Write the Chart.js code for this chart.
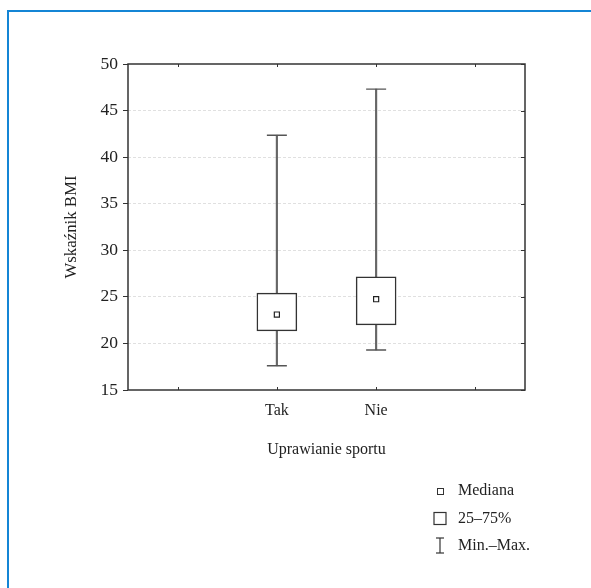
<!DOCTYPE html>
<html><head><meta charset="utf-8">
<script src="https://cdn.jsdelivr.net/npm/chart.js@4.4.0/dist/chart.umd.min.js"></script>
<style>
html,body{margin:0;padding:0;background:#fff;overflow:hidden}
#wrap{position:relative;width:591px;height:588px}
#frame{position:absolute;left:7px;top:10px;width:640px;height:640px;border:2px solid #1485d5;box-sizing:border-box;pointer-events:none}
canvas{position:absolute;left:0;top:0}
</style></head><body>
<div id="wrap"><canvas id="c" width="591" height="588"></canvas><div id="frame"></div></div>
<script>
const categories = ['Tak', 'Nie'];
const minValues = [17.6, 19.3];
const q1Values = [21.35, 22.0];
const medianValues = [23.1, 24.75];
const q3Values = [25.4, 27.15];
const maxValues = [42.35, 47.3];
const yMin = 15, yMax = 50, yStep = 5;
const legendLabels = ['Mediana', '25\u201375%', 'Min.\u2013Max.'];

const axisLabels = ['', ...categories, ''];
const pad = arr => [null, ...arr, null];
const FONT = "'Liberation Serif', 'Times New Roman', serif";
const TXT = '#222';

const framePlugin = {
  id: 'frame',
  afterDraw(chart) {
    const {ctx, chartArea: {left, right, top, bottom}, scales: {x, y}} = chart;
    ctx.save();
    ctx.strokeStyle = '#333';
    ctx.lineWidth = 1.5;
    ctx.strokeRect(left, top, right - left, bottom - top);
    ctx.lineWidth = 1;
    const ln = (a, b, c, d) => { ctx.beginPath(); ctx.moveTo(a, b); ctx.lineTo(c, d); ctx.stroke(); };
    x.ticks.forEach((t, i) => {
      const px = Math.round(x.getPixelForTick(i)) + 0.5;
      ln(px, top, px, top + 3);
      ln(px, bottom, px, bottom - 3);
    });
    y.ticks.forEach((t, i) => {
      const py = Math.round(y.getPixelForTick(i)) + 0.5;
      ln(right, py, right - 4, py);
    });
    // legend
    const lx = 440, tx = 458;
    const rows = [491, 518.5, 545.5];
    ctx.strokeStyle = '#333';
    ctx.fillStyle = '#fff';
    ctx.lineWidth = 1;
    ctx.strokeRect(lx - 3 + 0.5, rows[0] - 3 + 0.5, 6, 6);
    ctx.lineWidth = 1.2;
    ctx.strokeRect(lx - 6, rows[1] - 6, 12, 12);
    ctx.lineWidth = 1.2;
    ln(lx, rows[2] - 7.5, lx, rows[2] + 7.5);
    ln(lx - 4, rows[2] - 7.5, lx + 4, rows[2] - 7.5);
    ln(lx - 4, rows[2] + 7.5, lx + 4, rows[2] + 7.5);
    ctx.fillStyle = TXT;
    ctx.font = '16px ' + FONT;
    ctx.textBaseline = 'middle';
    ctx.textAlign = 'left';
    legendLabels.forEach((s, i) => ctx.fillText(s, tx, rows[i]));
    ctx.restore();
  }
};

new Chart(document.getElementById('c'), {
  type: 'bar',
  data: {
    labels: axisLabels,
    datasets: [
      {
        type: 'line', label: 'Mediana', data: pad(medianValues), showLine: false,
        pointStyle: 'rect', pointRadius: 3.6, pointBackgroundColor: '#fff',
        pointBorderColor: '#222', pointBorderWidth: 1.2, order: 0
      },
      {
        label: '25-75%', data: pad(categories.map((c, i) => [q1Values[i], q3Values[i]])),
        backgroundColor: '#fff', borderColor: '#333', borderWidth: 1.5, borderSkipped: false,
        barThickness: 40, grouped: false, order: 1
      },
      {
        type: 'line', label: 'Min', data: pad(minValues), showLine: false,
        pointStyle: 'line', pointRadius: 10, pointBorderColor: '#555', pointBorderWidth: 1.4, order: 2
      },
      {
        type: 'line', label: 'Max', data: pad(maxValues), showLine: false,
        pointStyle: 'line', pointRadius: 10, pointBorderColor: '#555', pointBorderWidth: 1.4, order: 2
      },
      {
        label: 'Min-Max', data: pad(categories.map((c, i) => [minValues[i], maxValues[i]])),
        backgroundColor: '#666', borderWidth: 0, barThickness: 1.5, grouped: false, order: 3
      }
    ]
  },
  options: {
    responsive: false, animation: false, devicePixelRatio: 1,
    layout: { padding: { left: 50, right: 66, top: 64, bottom: 125 } },
    plugins: { legend: { display: false }, tooltip: { enabled: false } },
    scales: {
      x: {
        type: 'category', offset: true,
        grid: { display: false, drawTicks: false },
        border: { display: false },
        ticks: { color: TXT, font: { family: FONT, size: 16 }, padding: 11, maxRotation: 0, autoSkip: false },
        title: { display: true, text: 'Uprawianie sportu', color: TXT, font: { family: FONT, size: 16 }, padding: { top: 4, bottom: 4 } },
        afterFit(scale) { scale.height = 73; }
      },
      y: {
        min: yMin, max: yMax,
        ticks: { stepSize: yStep, color: TXT, font: { family: FONT, size: 17.5 }, padding: 5 },
        grid: {
          color: c => (c.tick && (c.tick.value === yMin || c.tick.value === yMax)) ? 'rgba(0,0,0,0)' : '#e0e0e0',
          tickColor: '#333', tickLength: 5, lineWidth: 1
        },
        border: { display: false, dash: [3, 2] },
        title: { display: true, text: 'Wskaźnik BMI', color: TXT, font: { family: FONT, size: 16.8 }, padding: { top: 12, bottom: 0 } },
        afterFit(scale) { scale.width = 78; }
      }
    }
  },
  plugins: [framePlugin]
});
</script>
</body></html>
